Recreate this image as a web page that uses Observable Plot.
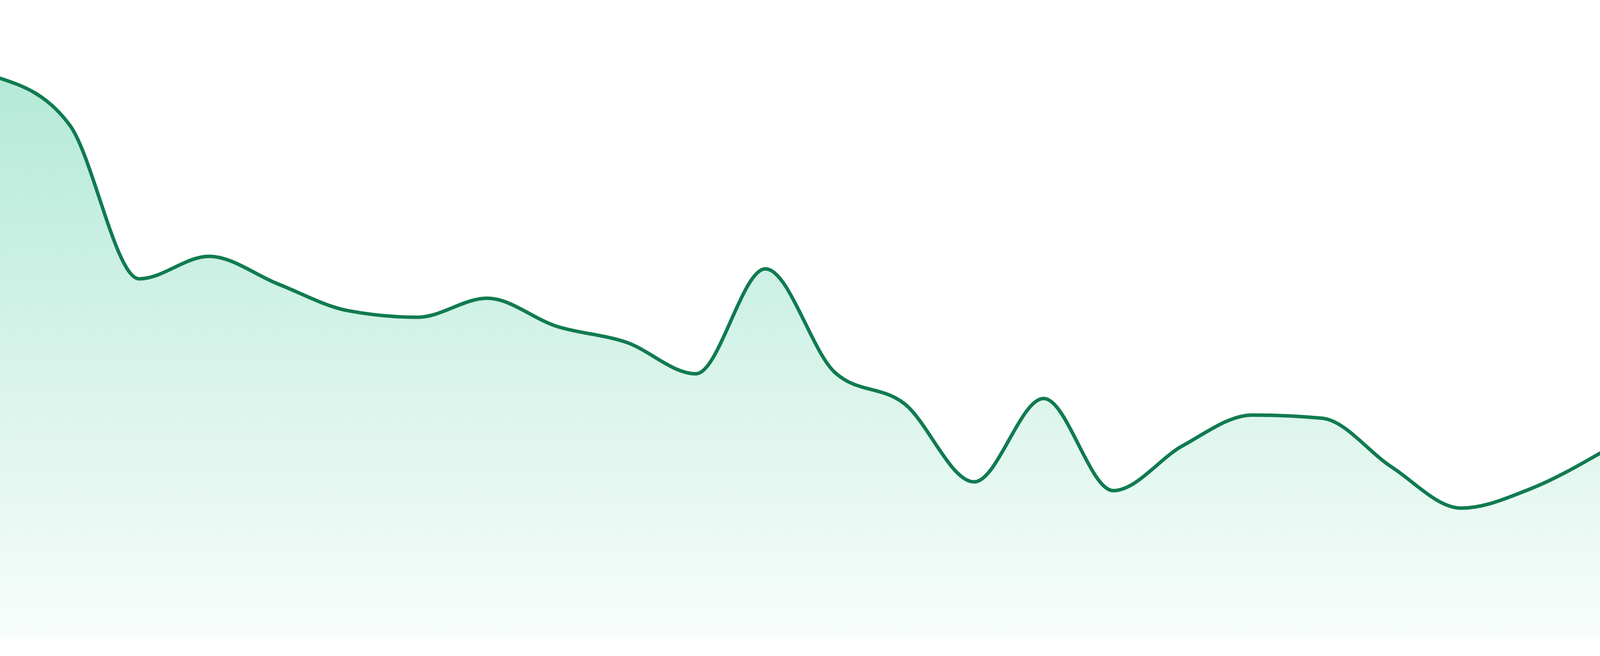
<!DOCTYPE html>
<html>
<head>
<meta charset="utf-8">
<script src="https://cdn.jsdelivr.net/npm/d3@7"></script>
<script src="https://cdn.jsdelivr.net/npm/@observablehq/plot@0.6"></script>
<style>
  html, body { margin: 0; padding: 0; background: #ffffff; overflow: hidden; }
  #chart svg { display: block; }
</style>
</head>
<body>
<div id="chart"></div>
<script>
const steps = d3.range(24);
const values = [
  89.5, 82.0, 57.4, 61.0, 56.55, 52.3, 51.25, 54.3,
  49.8, 47.25, 42.2, 59.0, 42.4, 37.4, 24.9, 38.25,
  23.5, 30.7, 35.6, 35.1, 27.3, 20.7, 23.8, 29.5
];
const yDomain = [0, 100];

const data = steps.map((s, i) => ({step: s, value: values[i]}));

// fill the browser viewport exactly (the window reports its own size)
const W = window.innerWidth || 4800;
const H = window.innerHeight || 1680;
const mTop = Math.round(H * 32 / 1680);
const mBottom = Math.round(H * 48 / 1680);

const chart = Plot.plot({
  width: W,
  height: H,
  marginTop: mTop,
  marginBottom: mBottom,
  marginLeft: 0,
  marginRight: 0,
  style: {background: "#ffffff"},
  x: {domain: [0, steps.length - 1], axis: null},
  y: {domain: yDomain, axis: null},
  marks: [
    Plot.areaY(data, {x: "step", y: "value", curve: "monotone-x", fill: "url(#areaGrad)"}),
    Plot.lineY(data, {x: "step", y: "value", curve: "monotone-x", stroke: "#117b50", strokeWidth: 9})
  ]
});

const svg = d3.select(chart);
const defs = svg.insert("defs", ":first-child");
const grad = defs.append("linearGradient")
  .attr("id", "areaGrad")
  .attr("x1", 0).attr("y1", 0).attr("x2", 0).attr("y2", 1);
grad.append("stop").attr("offset", "0%").attr("stop-color", "#10b981").attr("stop-opacity", 0.31);
grad.append("stop").attr("offset", "100%").attr("stop-color", "#10b981").attr("stop-opacity", 0.03);

document.getElementById("chart").appendChild(chart);
</script>
</body>
</html>
